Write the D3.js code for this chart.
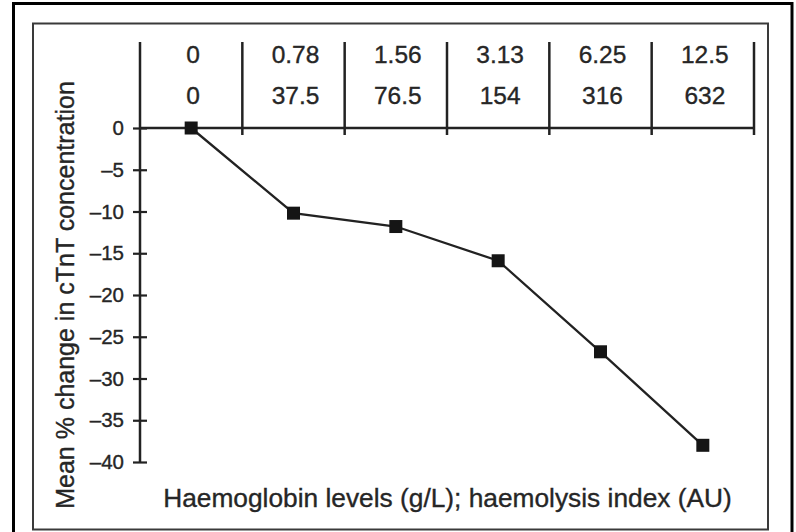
<!DOCTYPE html>
<html>
<head>
<meta charset="utf-8">
<script src="https://cdn.jsdelivr.net/npm/d3@7"></script>
<style>
  html, body { margin: 0; padding: 0; background: #fff; }
  svg { display: block; }
  text { font-family: "Liberation Sans", Arial, Helvetica, sans-serif; fill: #262626; stroke: #262626; stroke-width: 0.35; }
</style>
</head>
<body>
<svg id="chart" width="796" height="532"></svg>
<script>
// Haemoglobin level per sample (g/L) and matching haemolysis index (AU)
const haemoglobin = ["0", "0.78", "1.56", "3.13", "6.25", "12.5"];
const haemolysisIndex = ["0", "37.5", "76.5", "154", "316", "632"];
// Mean % change in cTnT concentration at each level
const meanChange = [0, -10.2, -11.8, -15.9, -26.8, -38.0];
const yTicks = [0, -5, -10, -15, -20, -25, -30, -35, -40];

const svg = d3.select("#chart");
const ink = "#222";

// Frames
svg.append("rect").attr("x", 13.5).attr("y", 3.5).attr("width", 778.5).attr("height", 560)
  .attr("fill", "none").attr("stroke", "#000").attr("stroke-width", 3);
svg.append("rect").attr("x", 33).attr("y", 23.5).attr("width", 735).attr("height", 506)
  .attr("fill", "none").attr("stroke", "#3a3a3a").attr("stroke-width", 2);

// Scales
const x = d3.scaleBand().domain(haemoglobin).range([140, 754]).padding(0);
const y = d3.scaleLinear().domain([-40, 0]).range([462, 128]);
const tableTop = 42;

// Header table above the zero line
const table = svg.append("g");
table.append("line")
  .attr("x1", x.range()[0]).attr("x2", x.range()[1])
  .attr("y1", y(0)).attr("y2", y(0))
  .attr("stroke", ink).attr("stroke-width", 2.5);
const edges = haemoglobin.map(d => x(d)).concat([x.range()[1]]);
table.selectAll("line.sep").data(edges.slice(1)).join("line")
  .attr("class", "sep")
  .attr("x1", d => d).attr("x2", d => d)
  .attr("y1", tableTop).attr("y2", y(0) + 7)
  .attr("stroke", ink).attr("stroke-width", 2.5);
table.selectAll("text.hb").data(haemoglobin).join("text")
  .attr("class", "hb")
  .attr("x", d => x(d) + x.bandwidth() / 2 + 2)
  .attr("y", 62.5)
  .attr("text-anchor", "middle")
  .attr("font-size", 24.5)
  .text(d => d);
table.selectAll("text.hi").data(haemolysisIndex).join("text")
  .attr("class", "hi")
  .attr("x", (d, i) => x(haemoglobin[i]) + x.bandwidth() / 2 + 2)
  .attr("y", 104)
  .attr("text-anchor", "middle")
  .attr("font-size", 24.5)
  .text(d => d);

// Y axis
const yAxis = d3.axisLeft(y).tickValues(yTicks).tickSize(7).tickPadding(9)
  .tickFormat(d => d < 0 ? "\u2013" + Math.abs(d) : String(d));
const gy = svg.append("g").attr("transform", "translate(140,0)").call(yAxis);
gy.select(".domain").remove();
gy.selectAll(".tick line").attr("x1", 7).attr("stroke", ink).attr("stroke-width", 2.2);
gy.selectAll(".tick text")
  .attr("font-size", 20.5)
  .attr("font-family", "Liberation Sans, Arial, sans-serif")
  .attr("fill", "#262626");
gy.append("line").attr("x1", 0).attr("x2", 0)
  .attr("y1", tableTop).attr("y2", y(-40))
  .attr("stroke", ink).attr("stroke-width", 2.5);

// Series line and square markers
const pts = haemoglobin.map((d, i) => [x(d) + x.bandwidth() / 2, y(meanChange[i])]);
svg.append("path")
  .attr("d", d3.line()(pts))
  .attr("fill", "none").attr("stroke", ink).attr("stroke-width", 2.3);
svg.selectAll("rect.pt").data(pts).join("rect")
  .attr("class", "pt")
  .attr("x", d => d[0] - 6.5).attr("y", d => d[1] - 6.5)
  .attr("width", 13).attr("height", 13)
  .attr("fill", "#151515");

// Axis titles
svg.append("text")
  .attr("x", 447.5).attr("y", 506.5)
  .attr("text-anchor", "middle")
  .attr("font-size", 26.3)
  .text("Haemoglobin levels (g/L); haemolysis index (AU)");
svg.append("text")
  .attr("transform", "translate(73.5,295) rotate(-90)")
  .attr("text-anchor", "middle")
  .attr("font-size", 25)
  .text("Mean % change in cTnT concentration");
</script>
</body>
</html>
